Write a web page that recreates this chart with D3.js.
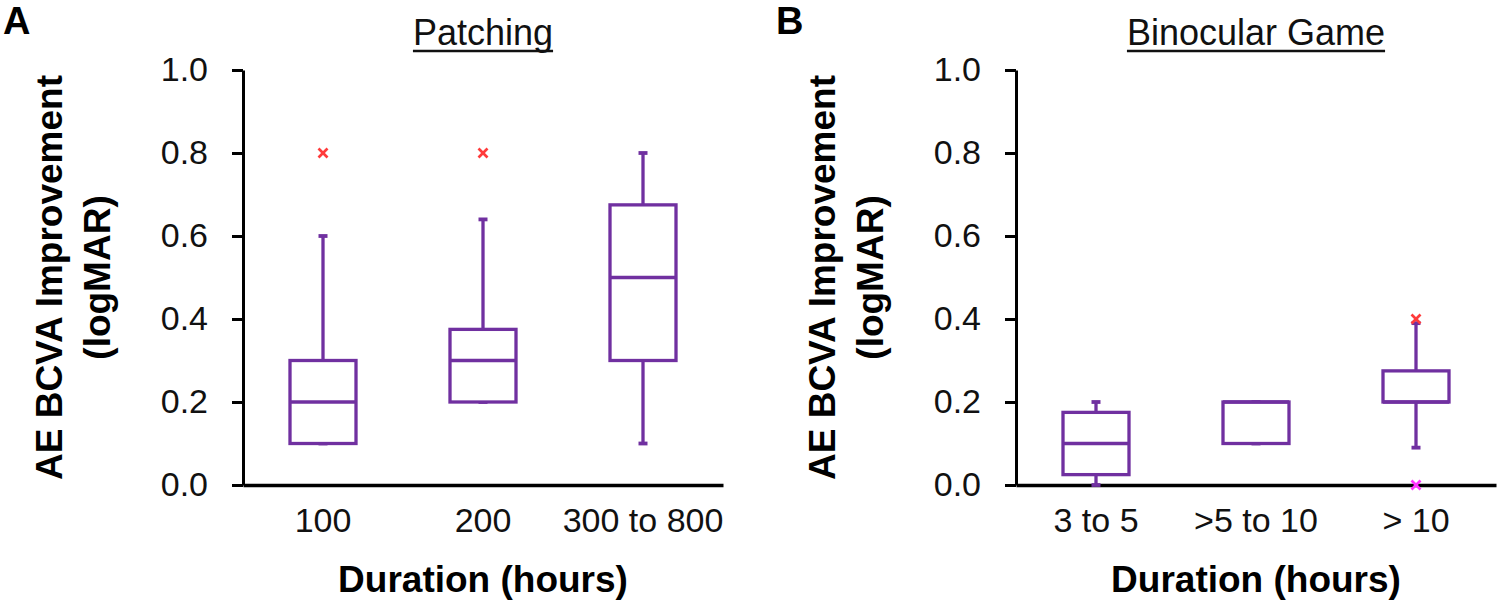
<!DOCTYPE html>
<html>
<head>
<meta charset="utf-8">
<script src="https://cdn.jsdelivr.net/npm/d3@7"></script>
<style>
  html, body { margin: 0; padding: 0; background: #fff; }
  svg { display: block; font-family: "Liberation Sans", Arial, sans-serif; }
</style>
</head>
<body>
<svg id="chart" width="1500" height="607"></svg>
<script>
// ---- Data ----
const yTicks = [0, 0.2, 0.4, 0.6, 0.8, 1.0];

const categoriesA = ["100", "200", "300 to 800"];
const whiskerLowA = [0.1, 0.2, 0.1];
const q1A = [0.1, 0.2, 0.3];
const medianA = [0.2, 0.3, 0.5];
const q3A = [0.3, 0.375, 0.675];
const whiskerHighA = [0.6, 0.64, 0.8];
const outliersA = [[0.8], [0.8], []];
const outlierColorsA = [["#ff3b3b"], ["#ff3b3b"], []];

const categoriesB = ["3 to 5", ">5 to 10", "> 10"];
const whiskerLowB = [0.0, 0.1, 0.09];
const q1B = [0.025, 0.1, 0.2];
const medianB = [0.1, 0.2, 0.2];
const q3B = [0.175, 0.2, 0.275];
const whiskerHighB = [0.2, 0.2, 0.39];
const outliersB = [[], [], [0.4, 0.0]];
const outlierColorsB = [[], [], ["#ff3b3b", "#ff33ff"]];

const panels = [
  { letter: "A", title: "Patching", cats: categoriesA, lo: whiskerLowA, q1: q1A, med: medianA, q3: q3A, hi: whiskerHighA, out: outliersA, outC: outlierColorsA, x0: 243 },
  { letter: "B", title: "Binocular Game", cats: categoriesB, lo: whiskerLowB, q1: q1B, med: medianB, q3: q3B, hi: whiskerHighB, out: outliersB, outC: outlierColorsB, x0: 1016 }
];

const svg = d3.select("#chart");
const purple = "#7030a0";
const plotW = 480, yTop = 70, yBot = 485;
const boxW = 66, capW = 9;

panels.forEach(p => {
  const g = svg.append("g");
  const x = d3.scaleBand().domain(p.cats).range([p.x0, p.x0 + plotW]).padding(0);
  const y = d3.scaleLinear().domain([0, 1]).range([yBot, yTop]);

  // y axis
  const ya = g.append("g").attr("transform", `translate(${p.x0},0)`)
    .call(d3.axisLeft(y).tickValues(yTicks).tickFormat(d3.format(".1f")).tickSize(11).tickSizeOuter(0).tickPadding(24));
  ya.selectAll("path, line").attr("stroke", "#000").attr("stroke-width", 3);
  ya.selectAll("text").attr("font-size", 34).attr("fill", "#111").attr("font-family", "Liberation Sans, Arial, sans-serif");

  // x axis
  const xa = g.append("g").attr("transform", `translate(0,${yBot})`)
    .call(d3.axisBottom(x).tickSize(0).tickSizeOuter(0).tickPadding(23));
  xa.select("path").attr("stroke", "#000").attr("stroke-width", 3.5);
  xa.selectAll("text").attr("font-size", 34).attr("fill", "#111").attr("font-family", "Liberation Sans, Arial, sans-serif");

  // boxes
  p.cats.forEach((c, i) => {
    const cx = x(c) + x.bandwidth() / 2;
    const bg = g.append("g").attr("stroke", purple).attr("stroke-width", 3.3).attr("fill", "none");
    // whiskers
    bg.append("line").attr("x1", cx).attr("x2", cx).attr("y1", y(p.q3[i])).attr("y2", y(p.hi[i]));
    bg.append("line").attr("x1", cx).attr("x2", cx).attr("y1", y(p.q1[i])).attr("y2", y(p.lo[i]));
    // caps
    [p.hi[i], p.lo[i]].forEach(v => {
      bg.append("line").attr("x1", cx - capW / 2).attr("x2", cx + capW / 2)
        .attr("y1", y(v)).attr("y2", y(v)).attr("stroke-width", 3.8);
    });
    // box
    bg.append("rect").attr("x", cx - boxW / 2).attr("width", boxW)
      .attr("y", y(p.q3[i])).attr("height", y(p.q1[i]) - y(p.q3[i])).attr("fill", "#fff");
    bg.append("line").attr("x1", cx - boxW / 2).attr("x2", cx + boxW / 2)
      .attr("y1", y(p.med[i])).attr("y2", y(p.med[i]));
    // outliers
    p.out[i].forEach((v, j) => {
      const oy = y(v), s = 4.5;
      const og = g.append("g").attr("stroke", p.outC[i][j]).attr("stroke-width", 2.6);
      og.append("line").attr("x1", cx - s).attr("x2", cx + s).attr("y1", oy - s).attr("y2", oy + s);
      og.append("line").attr("x1", cx - s).attr("x2", cx + s).attr("y1", oy + s).attr("y2", oy - s);
    });
  });

  // panel letter
  g.append("text").attr("x", p.x0 - 240).attr("y", 34).attr("font-size", 38).attr("font-weight", "bold")
    .attr("fill", "#000").text(p.letter);

  // title (underlined)
  const cxT = p.x0 + plotW / 2;
  const t = g.append("text").attr("x", cxT).attr("y", 45).attr("text-anchor", "middle")
    .attr("font-size", 36).attr("fill", "#111").text(p.title);
  const tw = t.node().getComputedTextLength();
  g.append("line").attr("x1", cxT - tw / 2).attr("x2", cxT + tw / 2).attr("y1", 51).attr("y2", 51)
    .attr("stroke", "#111").attr("stroke-width", 2.5);

  // y title
  const yc = (yTop + yBot) / 2;
  const yt = g.append("text").attr("transform", `translate(${p.x0 - 181},${yc}) rotate(-90)`)
    .attr("text-anchor", "middle").attr("font-size", 37).attr("font-weight", "bold").attr("fill", "#000");
  yt.append("tspan").attr("x", 0).attr("y", 0).text("AE BCVA Improvement");
  yt.append("tspan").attr("x", 0).attr("y", 48).text("(logMAR)");

  // x title
  g.append("text").attr("x", p.x0 + plotW / 2).attr("y", 592).attr("text-anchor", "middle")
    .attr("font-size", 37).attr("font-weight", "bold").attr("fill", "#000").text("Duration (hours)");
});
</script>
</body>
</html>
